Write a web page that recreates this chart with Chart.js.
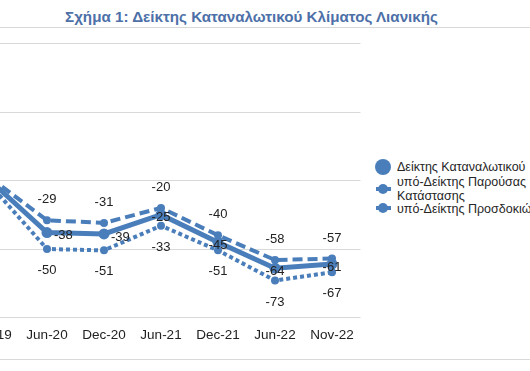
<!DOCTYPE html>
<html>
<head>
<meta charset="utf-8">
<script src="https://cdn.jsdelivr.net/npm/chart.js@4.4.0/dist/chart.umd.min.js"></script>
<style>
html, body { margin: 0; padding: 0; background: #fff; }
body { width: 530px; height: 371px; overflow: hidden; position: relative; font-family: "Liberation Sans", Arial, sans-serif; }
#title { position: absolute; left: 0; width: 503px; top: 8px; text-align: center; font-weight: bold; font-size: 15.2px; color: #4d70a8; white-space: nowrap; }
.frame { position: absolute; left: 0; width: 530px; height: 1px; background: #d9d9d9; }
#wrap { position: absolute; left: -60px; top: 30px; width: 430px; height: 320px; }
.lg { position: absolute; white-space: nowrap; color: #262626; }
.dot { position: absolute; background: #4a7ebb; border-radius: 50%; }
.bar { position: absolute; background: #4a7ebb; }
</style>
</head>
<body>
<div id="title">Σχήμα 1: Δείκτης Καταναλωτικού Κλίματος Λιανικής</div>
<div class="frame" style="top:27px"></div>
<div class="frame" style="top:359px"></div>
<div id="wrap"><canvas id="chart"></canvas></div>

<div class="dot" style="left:375px;top:159px;width:16px;height:16px"></div>
<div class="bar" style="left:376px;top:186.5px;width:15px;height:4px"></div>
<div class="dot" style="left:378px;top:183.5px;width:10px;height:10px"></div>
<div class="bar" style="left:376px;top:206px;width:15px;height:4px"></div>
<div class="dot" style="left:378px;top:203px;width:10px;height:10px"></div>
<div class="lg" id="lg1" style="left:397px;top:160px"></div>
<div class="lg" id="lg2" style="left:397px;top:174.5px"></div>
<div class="lg" id="lg3" style="left:397px;top:202px"></div>

<script>
const categories = ['Dec-19', 'Jun-20', 'Dec-20', 'Jun-21', 'Dec-21', 'Jun-22', 'Nov-22'];
const climateIndex = [0, -38, -39, -25, -45, -64, -61];
const currentSubIndex = [2, -29, -31, -20, -40, -58, -57];
const expectSubIndex = [-3, -50, -51, -33, -51, -73, -67];
const seriesNames = ['Δείκτης Καταναλωτικού', 'υπό-Δείκτης Παρούσας Κατάστασης', 'υπό-Δείκτης Προσδοκιών'];
const yTicks = [-100, -50, 0, 50, 100];

const blue = '#4a7ebb';

// narrow font if the system has it, else plain Liberation Sans a bit smaller
function hasFont(name) {
  const c = document.createElement('canvas').getContext('2d');
  c.font = '20px monospace';
  const a = c.measureText('Δείκτης -29 Jun').width;
  c.font = '20px "' + name + '", monospace';
  const b = c.measureText('Δείκτης -29 Jun').width;
  return a !== b;
}
const narrow = hasFont('Liberation Sans Narrow');
const fam = narrow ? '"Liberation Sans Narrow"' : '"Liberation Sans", Arial, sans-serif';
const fs = narrow ? 14 : 12.5;

// legend texts
['lg1', 'lg2', 'lg3'].forEach(id => {
  const el = document.getElementById(id);
  el.style.fontFamily = fam;
  el.style.fontSize = fs + 'px';
  el.style.lineHeight = '14px';
});
document.getElementById('lg1').textContent = seriesNames[0];
document.getElementById('lg2').innerHTML = 'υπό-Δείκτης Παρούσας<br>Κατάστασης';
document.getElementById('lg3').textContent = seriesNames[2];

// solid series: early labels sit right of the point, later ones on the point
const solidRight = [false, true, true, false, false, false, false];

const pointLabels = {
  id: 'pointLabels',
  afterDatasetsDraw(chart) {
    const ctx = chart.ctx;
    ctx.save();
    ctx.font = (fs + 0.5) + 'px ' + fam;
    ctx.fillStyle = '#222';
    ctx.textBaseline = 'middle';
    chart.data.datasets.forEach((ds, i) => {
      const meta = chart.getDatasetMeta(i);
      meta.data.forEach((pt, j) => {
        let x = pt.x, y = pt.y;
        ctx.textAlign = 'center';
        if (i === 0) {
          if (solidRight[j]) { ctx.textAlign = 'left'; x += 7; }
          y += 3;
        } else if (i === 1) {
          y -= 20.5;
        } else {
          y += 21.5;
        }
        ctx.fillText(String(ds.data[j]), x, y);
      });
    });
    ctx.restore();
  }
};

new Chart(document.getElementById('chart'), {
  type: 'line',
  data: {
    labels: categories,
    datasets: [
      {
        label: seriesNames[0],
        data: climateIndex,
        borderColor: blue,
        backgroundColor: blue,
        borderWidth: 5,
        pointRadius: 5.5,
        pointBorderWidth: 0,
        tension: 0
      },
      {
        label: seriesNames[1],
        data: currentSubIndex,
        borderColor: blue,
        backgroundColor: blue,
        borderWidth: 4,
        borderDash: [10, 5],
        pointRadius: 4,
        pointBorderWidth: 0,
        tension: 0
      },
      {
        label: seriesNames[2],
        data: expectSubIndex,
        borderColor: blue,
        backgroundColor: blue,
        borderWidth: 4,
        borderDash: [4, 3],
        pointRadius: 4,
        pointBorderWidth: 0,
        tension: 0
      }
    ]
  },
  options: {
    responsive: true,
    maintainAspectRatio: false,
    animation: false,
    devicePixelRatio: 1,
    layout: { padding: { left: 21.5, right: 9.5, top: 13.5, bottom: 0 } },
    plugins: { legend: { display: false }, tooltip: { enabled: false } },
    scales: {
      x: {
        offset: true,
        grid: { display: false, drawTicks: false },
        border: { display: false },
        ticks: { color: '#222', padding: 10, maxRotation: 0, font: { family: fam, size: fs + 1 } },
        afterFit(scale) { scale.height = 32.5; }
      },
      y: {
        min: -100,
        max: 100,
        afterBuildTicks(scale) { scale.ticks = yTicks.map(v => ({ value: v })); },
        grid: { color: '#d9d9d9', lineWidth: 1, drawTicks: false },
        border: { display: false },
        ticks: { display: false },
        afterFit(scale) { scale.width = 0; }
      }
    }
  },
  plugins: [pointLabels]
});
</script>
</body>
</html>
